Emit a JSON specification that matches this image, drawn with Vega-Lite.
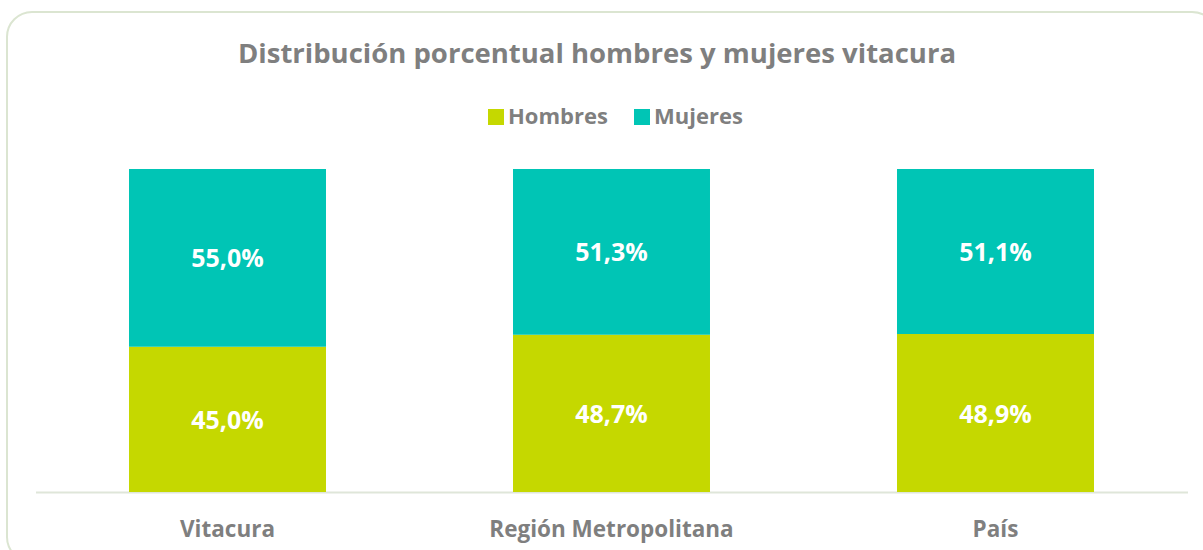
{
  "$schema": "https://vega.github.io/schema/vega-lite/v6.json",
  "width": 1210,
  "height": 550,
  "autosize": {"type": "none"},
  "padding": {"left": 7, "top": 12, "right": 0, "bottom": 0},
  "background": "white",
  "config": {
    "font": "Open Sans",
    "locale": {"number": {"decimal": ",", "thousands": ".", "grouping": [3], "currency": ["$", ""]}},
    "view": {"stroke": "#dbe5d1", "strokeWidth": 2, "cornerRadius": 25}
  },
  "title": {
    "text": "Distribución porcentual hombres y mujeres vitacura",
    "font": "Open Sans",
    "fontSize": 27.5,
    "fontWeight": "bold",
    "color": "#7f7f7f",
    "anchor": "middle",
    "baseline": "middle",
    "offset": -70,
    "dx": -15
  },
  "data": {
    "values": [
      {"region": "Vitacura", "sexo": "Hombres", "pct": 0.45},
      {"region": "Vitacura", "sexo": "Mujeres", "pct": 0.55},
      {"region": "Región Metropolitana", "sexo": "Hombres", "pct": 0.487},
      {"region": "Región Metropolitana", "sexo": "Mujeres", "pct": 0.513},
      {"region": "País", "sexo": "Hombres", "pct": 0.489},
      {"region": "País", "sexo": "Mujeres", "pct": 0.511}
    ]
  },
  "encoding": {
    "x": {
      "field": "region",
      "type": "nominal",
      "sort": null,
      "scale": {"range": [28.5, 1180.5], "paddingInner": 0.487, "paddingOuter": 0.2435},
      "axis": {
        "orient": "bottom",
        "offset": -70,
        "title": null,
        "domainColor": "#dfe6d9",
        "domainWidth": 2,
        "ticks": false,
        "tickSize": 0,
        "grid": false,
        "labelAngle": 0,
        "labelBaseline": "middle",
        "labelPadding": 37,
        "labelLimit": 400,
        "labelFont": "Open Sans",
        "labelFontSize": 22.5,
        "labelFontWeight": "bold",
        "labelColor": "#7f7f7f"
      }
    }
  },
  "layer": [
    {
      "mark": {"type": "bar"},
      "encoding": {
        "y": {
          "field": "pct",
          "type": "quantitative",
          "stack": "zero",
          "scale": {"domain": [0, 1], "range": [480, 157]},
          "axis": null
        },
        "order": {"field": "sexo", "sort": "ascending"},
        "color": {
          "field": "sexo",
          "type": "nominal",
          "scale": {"domain": ["Hombres", "Mujeres"], "range": ["#c5d800", "#00c5b5"]},
          "legend": {
            "orient": "none",
            "legendX": 478,
            "legendY": 94,
            "direction": "horizontal",
            "title": null,
            "symbolType": "square",
            "symbolSize": 256,
            "symbolStrokeWidth": 0,
            "symbolOpacity": 1,
            "labelFont": "Open Sans",
            "labelFontSize": 22,
            "labelFontWeight": "bold",
            "labelColor": "#7f7f7f",
            "labelOffset": 1,
            "columnPadding": 23
          }
        }
      }
    },
    {
      "transform": [
        {"stack": "pct", "groupby": ["region"], "sort": [{"field": "sexo"}], "as": ["y0", "y1"]},
        {"calculate": "(datum.y0 + datum.y1) / 2", "as": "mid"}
      ],
      "mark": {"type": "text", "color": "white", "font": "Open Sans", "fontSize": 25, "fontWeight": "bold", "baseline": "middle", "dy": 1.5},
      "encoding": {
        "y": {"field": "mid", "type": "quantitative"},
        "text": {"field": "pct", "type": "quantitative", "format": ".1%"}
      }
    }
  ]
}
